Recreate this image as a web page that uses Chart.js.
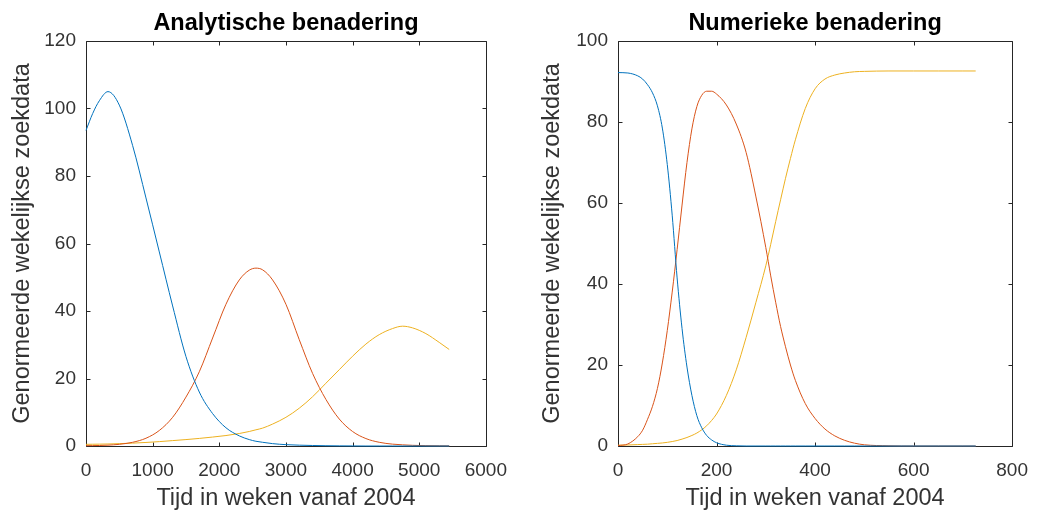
<!DOCTYPE html>
<html><head><meta charset="utf-8">
<script src="https://cdn.jsdelivr.net/npm/chart.js@4/dist/chart.umd.min.js"></script>
<style>
html,body{margin:0;padding:0;background:#fff;}
#wrap{position:relative;width:1041px;height:515px;overflow:hidden;background:#fff}
canvas{position:absolute;top:0}
</style></head><body>
<div id="wrap">
<canvas id="c1" width="520" height="515" style="left:0"></canvas>
<canvas id="c2" width="521" height="515" style="left:520px"></canvas>
</div>
<script>
// ---- Analytische benadering (left) ----
const X_ANA      = [0,   100, 200,  330, 500, 700, 900, 1100,1300,1500,1700,1900,2100,2300,2450,2550,2650,2800,3000,3200,3400,3600,3800,4000,4200,4400,4600,4750,4900,5100,5300,5450];
const ANA_BLUE   = [93.5,98.5,102.3,105, 101, 89,  73.5,57.5,41.5,26.5,16,  9.6, 5.4, 3.0, 1.9, 1.4, 1.1, 0.7, 0.4, 0.25,0.15,0.08,0.04,0.02,0,   0,   0,   0,   0,   0,   0,   0];
const ANA_RED    = [0.1, 0.12,0.15, 0.25,0.5, 1.1, 2.3, 4.6, 8.5, 14.5,22,  32,  42,  49.2,52.1,52.7,52.2,49.2,42,  31.5,21.5,13.8,8,   4.3, 2.2, 1.1, 0.55,0.35,0.2, 0.1, 0.06,0.04];
const ANA_YELLOW = [0.5, 0.52,0.55, 0.6, 0.7, 0.85,1.05,1.3, 1.6, 1.9, 2.25,2.65,3.1, 3.7, 4.3, 4.8, 5.3, 6.5, 8.5, 11.2,14.6,18.6,22.6,26.6,30.2,33,  34.8,35.5,35,  33.3,30.7,28.6];

// ---- Numerieke benadering (right) ----
const X_NUM      = [0,   20,  40,  50,  60,  70,  80,  90,  100, 110, 120, 130, 140, 150, 160, 170, 180, 190, 200, 220, 240, 260, 280, 300, 310, 320, 330, 340, 350, 360, 380, 400, 420, 440, 460, 480, 500, 550, 600, 650, 700, 726];
const NUM_BLUE   = [92.2,92.1,91.4,90.6,89.2,87.2,84,  78.5,69.5,57,  41.5,29,  19.5,12.5,7.5, 4.5, 2.6, 1.5, 0.8, 0.2, 0.05,0,   0,   0,   0,   0,   0,   0,   0,   0,   0,   0,   0,   0,   0,   0,   0,   0,   0,   0,   0,   0];
const NUM_RED    = [0.1, 0.5, 2.3, 3.9, 6.6, 9.8, 14.2,20.5,28.5,38,  48.5,59.5,70,  78.3,83.8,86.6,87.6,87.6,86.9,84.2,79.5,72.5,61.5,49,  42,  35.5,29.5,24.5,20,  16.2,10.5,6.8, 4.2, 2.5, 1.4, 0.7, 0.3, 0.05,0,   0,   0,   0];
const NUM_YELLOW = [0.2, 0.25,0.35,0.4, 0.45,0.55,0.65,0.75,0.9, 1.1, 1.35,1.7, 2.1, 2.6, 3.2, 4.0, 5.0, 6.3, 7.9, 12.5,18.8,26.8,35.5,44.5,49.8,55.4,60.8,66.1,71,  75.6,83.3,88.2,90.6,91.6,92.1,92.4,92.5,92.6,92.6,92.6,92.6,92.6];

const X_LABEL = 'Tijd in weken vanaf 2004';
const Y_LABEL = 'Genormeerde wekelijkse zoekdata';
const COLORS = ['#0072BD','#D95319','#EDB120'];
const FONT = '"Liberation Sans", Arial, Helvetica, sans-serif';

const boxTicks = {
  id:'boxTicks',
  beforeDatasetsDraw(chart){
    const {ctx, chartArea:a, scales:{x,y}} = chart;
    ctx.save();
    ctx.strokeStyle='#262626'; ctx.lineWidth=1;
    const L=Math.round(a.left)+0.5, R=Math.round(a.right)+0.5, T=Math.round(a.top)+0.5, B=Math.round(a.bottom)+0.5;
    ctx.beginPath();
    ctx.rect(L,T,R-L,B-T);
    const tl=4;
    x.ticks.forEach(t=>{const p=Math.round(x.getPixelForValue(t.value))+0.5; ctx.moveTo(p,B); ctx.lineTo(p,B-tl); ctx.moveTo(p,T); ctx.lineTo(p,T+tl);});
    y.ticks.forEach(t=>{const p=Math.round(y.getPixelForValue(t.value))+0.5; ctx.moveTo(L,p); ctx.lineTo(L+tl,p); ctx.moveTo(R,p); ctx.lineTo(R-tl,p);});
    ctx.stroke(); ctx.restore();
  }
};

function makeChart(id, xs, series, o){
  return new Chart(document.getElementById(id), {
    type:'line',
    data:{datasets: series.map((s,i)=>({
      data: xs.map((xv,j)=>({x:xv, y:s[j]})),
      borderColor: COLORS[i], borderWidth:1, pointRadius:0,
      cubicInterpolationMode:'monotone', clip:false, fill:false
    }))},
    options:{
      responsive:false, animation:false, devicePixelRatio:1,
      layout:{autoPadding:false, padding:{left:0,right:o.padRight,top:0,bottom:0}},
      plugins:{
        legend:{display:false}, tooltip:{enabled:false},
        title:{display:true, text:o.title, fullSize:false, color:'#000',
          font:{family:FONT, size:23.5, weight:'bold'}, padding:{top:9.6,bottom:3.2}}
      },
      scales:{
        x:{type:'linear', min:0, max:o.xmax,
          ticks:{stepSize:o.xstep, autoSkip:false, maxRotation:0, color:'#333', font:{family:FONT,size:19}, padding:13, callback:v=>String(v)},
          grid:{display:false, drawTicks:false}, border:{display:false},
          title:{display:true, text:X_LABEL, color:'#333', font:{family:FONT,size:23.5}, padding:{top:0,bottom:2}},
          afterFit(s){s.height=69;}
        },
        y:{type:'linear', min:0, max:o.ymax,
          ticks:{stepSize:20, autoSkip:false, color:'#333', font:{family:FONT,size:19}, padding:10, callback:v=>String(v)},
          grid:{display:false, drawTicks:false}, border:{display:false},
          title:{display:true, text:Y_LABEL, color:'#333', font:{family:FONT,size:23.5}, padding:{top:o.ytitlePad,bottom:0}},
          afterFit(s){s.width=o.yw;}
        }
      }
    },
    plugins:[boxTicks]
  });
}

makeChart('c1', X_ANA, [ANA_BLUE, ANA_RED, ANA_YELLOW],
  {title:'Analytische benadering', xmax:6000, xstep:1000, ymax:120, padRight:33, yw:86, ytitlePad:8});
makeChart('c2', X_NUM, [NUM_BLUE, NUM_RED, NUM_YELLOW],
  {title:'Numerieke benadering', xmax:800, xstep:200, ymax:100, padRight:20, yw:98, ytitlePad:18});
</script>
</body></html>
